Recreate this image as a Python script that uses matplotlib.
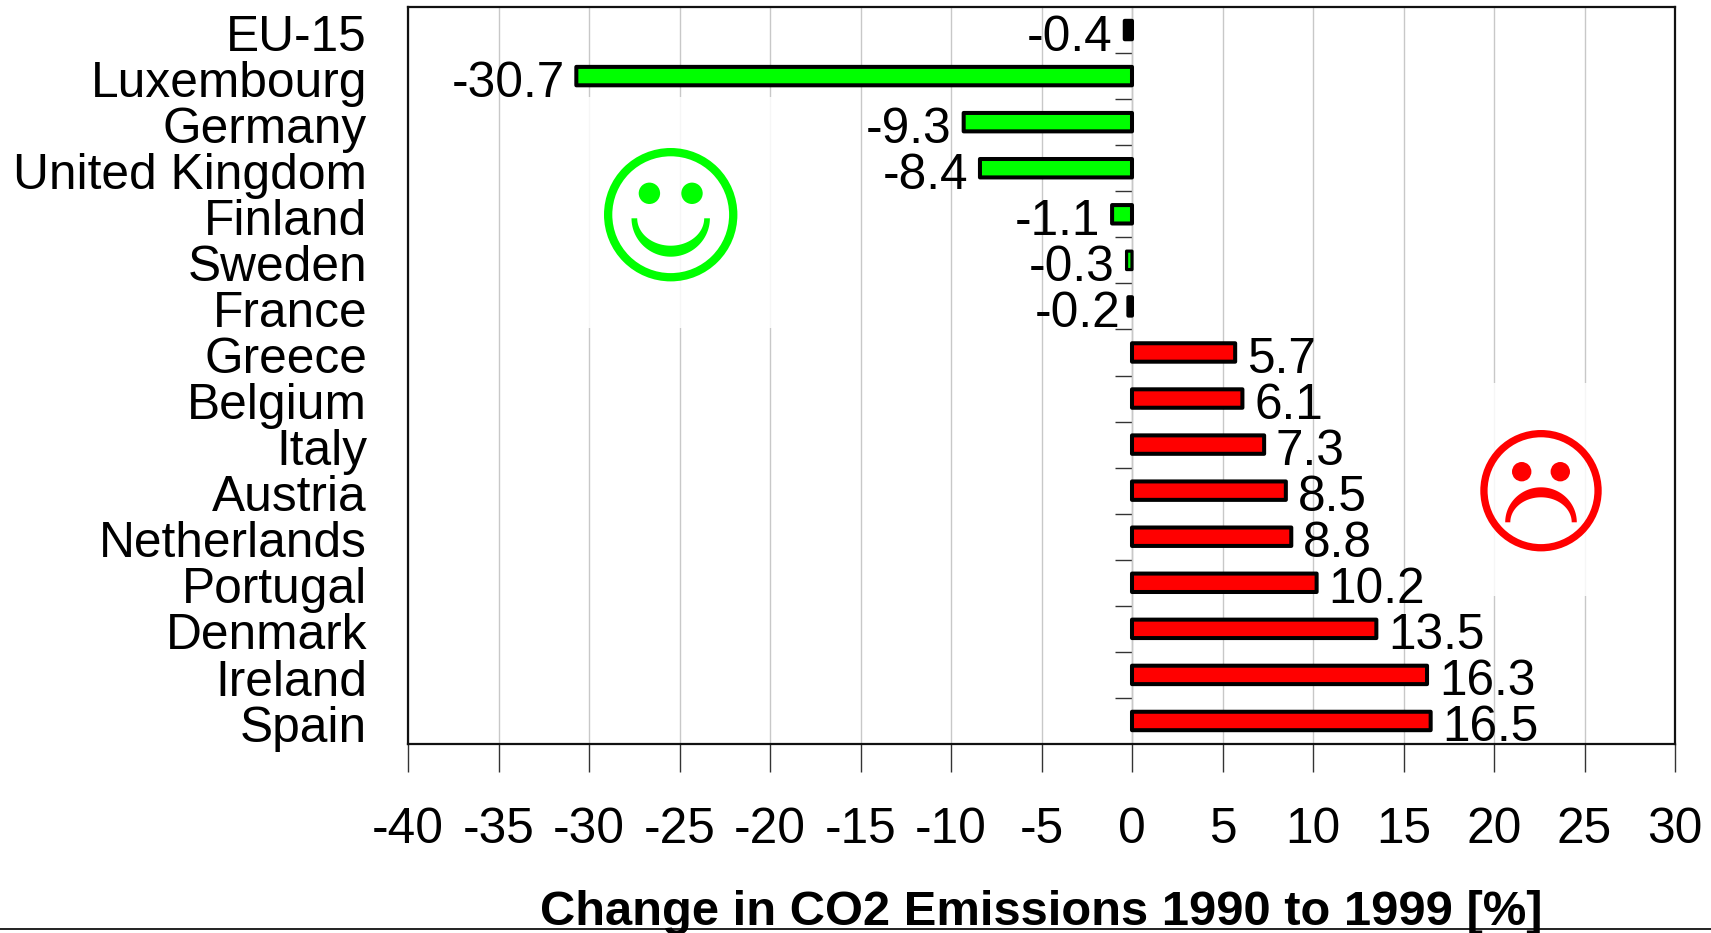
import numpy as np
import matplotlib
matplotlib.use("Agg")
import matplotlib.pyplot as plt
from matplotlib.patches import Circle, Polygon, Rectangle
from matplotlib.transforms import Affine2D

countries = ["EU-15", "Luxembourg", "Germany", "United Kingdom", "Finland", "Sweden", "France",
             "Greece", "Belgium", "Italy", "Austria", "Netherlands", "Portugal", "Denmark", "Ireland", "Spain"]
changes = [-0.4, -30.7, -9.3, -8.4, -1.1, -0.3, -0.2, 5.7, 6.1, 7.3, 8.5, 8.8, 10.2, 13.5, 16.3, 16.5]
x_ticks = list(range(-40, 31, 5))
x_title = "Change in CO2 Emissions 1990 to 1999 [%]"

W, H = 1711, 933
plt.rcParams["font.family"] = ["Liberation Sans", "DejaVu Sans"]
fig = plt.figure(figsize=(W / 100, H / 100), dpi=100)
L, R, T, B = 408, 1675, 7, 744
ax = fig.add_axes([L / W, 1 - B / H, (R - L) / W, (B - T) / H])
n = len(countries)
ax.set_xlim(-40, 30)
ax.set_ylim(n - 0.5, -0.5)
FS = 35.7

colors = ["#000000" if c in ("EU-15", "France") else ("#00ff00" if v < 0 else "#ff0000")
          for c, v in zip(countries, changes)]
ax.set_axisbelow(True)
ax.xaxis.grid(True, color="#c8c8c8", lw=1.0)
bars = ax.barh(range(n), changes, height=0.4, color=colors, edgecolor="black", linewidth=2.9, zorder=3)
for b, c in zip(bars, countries):
    b.set_joinstyle("round")
    b.set_snap(False)
    if c == "Sweden":
        b.set_linewidth(2.3)

for i, (c, v) in enumerate(zip(countries, changes)):
    dx = -5.5 if c == "France" else (-8.5 if v < 0 else 8.5)
    ax.annotate(f"{v:g}", (v, i), xytext=(dx, -5.4), textcoords="offset points",
                ha="right" if v < 0 else "left", va="center", fontsize=FS, zorder=4)

ax.set_xticks(x_ticks)
ax.set_xticklabels([str(t) for t in x_ticks], fontsize=FS)
ax.tick_params(axis="x", length=20, width=1, color="#333333", pad=25.5)
ax.set_yticks(range(n))
ax.set_yticklabels(countries, fontsize=FS)
ax.tick_params(axis="y", length=0, pad=29.5)
for lab in ax.get_yticklabels():
    lab.set_transform(lab.get_transform() + Affine2D().translate(0, -2.6))
for s in ax.spines.values():
    s.set_linewidth(1.6)
    s.set_color("#111111")

sec = ax.secondary_yaxis(40 / 70)
sec.set_yticks(np.arange(0.5, n - 1))
sec.set_yticklabels([])
sec.tick_params(axis="y", length=12.5, width=1, color="#333333", direction="in")
sec.spines["left"].set_linewidth(1.4)
sec.spines["left"].set_color("#444444")

fig.text((L + R) / 2 / W, 1 - 925 / H, x_title, ha="center", va="baseline", fontsize=35.2, fontweight="bold")
fig.add_artist(plt.Line2D([0, 1], [1 - 929 / H] * 2, color="#222222", lw=1.4))

px = Affine2D().scale(1, -1).translate(0, H)

# white picture backgrounds that mute the grid behind the faces
for (x0, y0, x1, y1) in [(580, 97, 780, 328), (1485, 383, 1590, 596)]:
    fig.add_artist(Rectangle((x0, y0), x1 - x0, y1 - y0, fc="white", ec="none", alpha=0.85, transform=px, zorder=1))


def face(cx, cy, r, stroke, eye_dx, eye_dy, eye_r, mouth, color):
    fig.add_artist(Circle((cx, cy), r - stroke / 2, fill=False, ec=color, lw=stroke * 0.72, transform=px, zorder=5))
    for sx in (-1, 1):
        fig.add_artist(Circle((cx + sx * eye_dx, cy + eye_dy), eye_r, fc=color, ec="none", transform=px, zorder=5))
    y0, ao, bo, ai, bi = mouth
    t = np.linspace(0, np.pi, 60)
    outer = np.c_[cx + ao * np.cos(t), y0 + bo * np.sin(t)]
    inner = np.c_[cx + ai * np.cos(t[::-1]), y0 + bi * np.sin(t[::-1])]
    fig.add_artist(Polygon(np.r_[outer, inner], fc=color, ec="none", transform=px, zorder=5))


face(670.7, 214.7, 66.7, 8.3, 21.3, -21.4, 10.7, (218.3, 39.2, 38.4, 33.5, 27.4), "#00ff00")
face(1541, 490.7, 60.7, 7.3, 19.3, -19, 9.7, (522.3, 35.8, -35, 30.7, -25), "#ff0000")

fig.savefig("out.png", dpi=100)
